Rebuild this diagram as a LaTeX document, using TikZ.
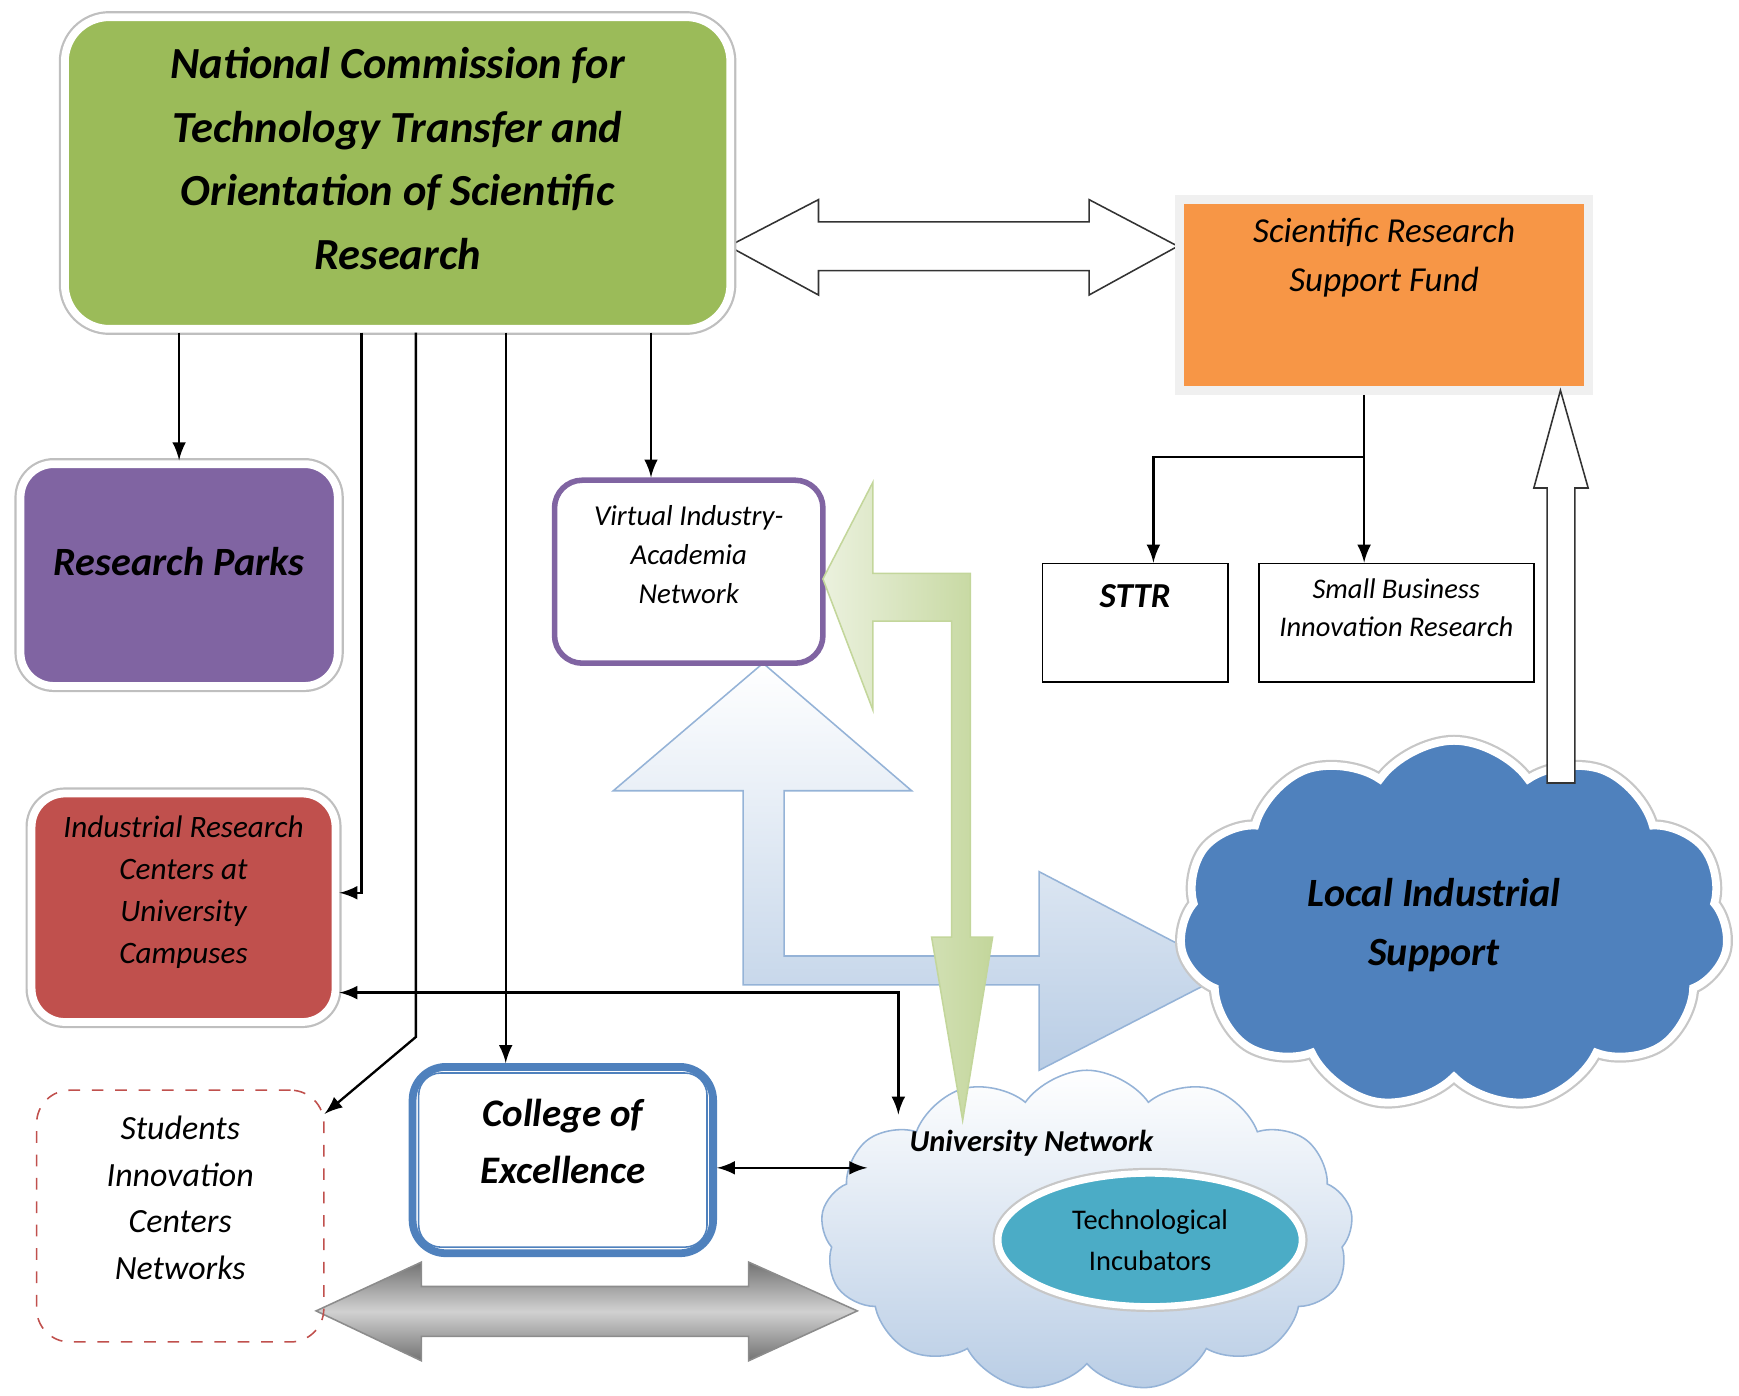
\documentclass[tikz,border=0pt]{standalone}
\usepackage{fontspec}
\setmainfont{Carlito}
\usetikzlibrary{positioning,shapes.symbols,shapes.geometric,calc}
\definecolor{commgreen}{HTML}{9BBB59}
\definecolor{parkpurple}{HTML}{8064A2}
\definecolor{centerred}{HTML}{C0504D}
\definecolor{fundorange}{HTML}{F79646}
\definecolor{localblue}{HTML}{4F81BD}
\definecolor{incteal}{HTML}{4BACC6}
\definecolor{paleblue}{HTML}{B9CDE5}
\definecolor{lineblue}{HTML}{95B3D7}
\definecolor{palegreen}{HTML}{EBF1DE}
\definecolor{leafgreen}{HTML}{C3D69B}

\begin{document}
\begin{tikzpicture}[x=0.1mm, y=-0.1mm, >=latex, semithick,
    plate/.style={draw=white, line width=0.7mm, rounded corners=3mm, align=center,
      preaction={draw=black!25, line width=1.1mm}},
    plainbox/.style={draw, thin, align=center},
    lift/.style={text depth=#1}]
    \useasboundingbox (0,0) rectangle (1568,1258);

    \draw[draw=lineblue, thin, top color=white, bottom color=paleblue]
      (688,598) -- (822,713) -- (707,713) -- (707,862) -- (937,862) -- (937,786) -- (1110,876)
      -- (937,965) -- (937,888) -- (670,888) -- (670,713) -- (553,713) -- cycle;
    \draw[draw=black!45, thin, top color=black!55, bottom color=black!55, middle color=black!18]
      (285,1182) -- (380,1138) -- (380,1160) -- (675,1160) -- (675,1138) -- (773,1182)
      -- (675,1227) -- (675,1205) -- (380,1205) -- (380,1227) -- cycle;
    \draw[draw=black!80, fill=white, thin]
      (657,222) -- (738,180) -- (738,200) -- (982,200) -- (982,180) -- (1062,222)
      -- (982,266) -- (982,244) -- (738,244) -- (738,266) -- cycle;

    \node[plate, fill=commgreen, rounded corners=4mm, minimum width=60mm, minimum height=28.1mm, lift=2.6mm,
      font=\fontsize{11.4}{16.3}\selectfont\bfseries\itshape] (comm) at (358.5,156)
      {National Commission for\\Technology Transfer and\\Orientation of Scientific\\Research};
    \node[draw=black!6, line width=0.8mm, fill=fundorange, minimum width=36.9mm, minimum height=17.2mm,
      align=center, lift=7.2mm, font=\fontsize{9}{12.5}\selectfont\itshape] (fund) at (1248,266)
      {Scientific Research\\Support Fund};
    \node[plate, fill=parkpurple, minimum width=28.6mm, minimum height=20mm, lift=2.5mm,
      font=\fontsize{10.3}{12}\selectfont\bfseries\itshape] (parks) at (161.5,518.5) {Research Parks};
    \node[plate, fill=centerred, minimum width=27.4mm, minimum height=20.6mm, lift=3.3mm,
      font=\fontsize{8}{10.8}\selectfont\itshape] (irc) at (165.5,818.5)
      {Industrial Research\\Centers at\\University\\Campuses};
    \node[draw=parkpurple, line width=0.5mm, rounded corners=2.5mm, fill=white, align=center,
      minimum width=24.2mm, minimum height=16.5mm, lift=3.1mm,
      font=\fontsize{7.4}{10}\selectfont\itshape] (via) at (621,515.5) {Virtual Industry-\\Academia\\Network};
    \node[plainbox, minimum width=16.7mm, minimum height=10.7mm, lift=4.9mm,
      font=\fontsize{9}{10}\selectfont\bfseries\itshape] (sttr) at (1023.5,561.5) {STTR};
    \node[plainbox, minimum width=24.8mm, minimum height=10.7mm, lift=2.7mm,
      font=\fontsize{7.3}{9.7}\selectfont\itshape] (sbir) at (1259,561.5) {Small Business\\Innovation Research};
    \node[draw=centerred, dashed, thin, rounded corners=3mm, align=center, minimum width=25.9mm,
      minimum height=22.7mm, lift=3.3mm, font=\fontsize{8.7}{12}\selectfont\itshape] (sicn) at (162.5,1096.5)
      {Students\\Innovation\\Centers\\Networks};
    \node[draw=localblue, line width=0.7mm, rounded corners=3mm, fill=white, align=center,
      minimum width=27.1mm, minimum height=16.8mm, lift=3.4mm,
      font=\fontsize{10}{14.5}\selectfont\bfseries\itshape] (coe) at (507.5,1046) {College of\\Excellence};
    \draw[localblue, thin, rounded corners=2mm] ([shift={(0.9mm,0.9mm)}]coe.south west)
      rectangle ([shift={(-0.9mm,-0.9mm)}]coe.north east);

    \node[cloud, cloud puffs=11, cloud puff arc=110, aspect=1.5, fill=localblue, draw=white, line width=0.7mm,
      preaction={draw=black!22, line width=1.1mm}, minimum width=49.5mm, minimum height=33.2mm,
      label={[xshift=-1.8mm, align=center, font=\fontsize{10.3}{15}\selectfont\bfseries\itshape]center:Local Industrial\\Support}]
      (lis) at (1311,834) {};
    \node[cloud, cloud puffs=13, cloud puff arc=110, aspect=1.65, top color=white, bottom color=paleblue,
      draw=lineblue, thin, minimum width=48mm, minimum height=29mm,
      label={[xshift=-5mm, yshift=7.9mm, font=\fontsize{7.8}{9}\selectfont\bfseries\itshape]center:University Network}]
      (unet) at (980,1110) {};

    \draw[draw=leafgreen, thin, left color=palegreen, right color=leafgreen]
      (742,522) -- (787,435) -- (787,517) -- (875,517) -- (875,845) -- (895,845) -- (868,1010)
      -- (840,845) -- (858,845) -- (858,560) -- (787,560) -- (787,640) -- cycle;

    \node[ellipse, fill=incteal, draw=white, line width=0.6mm, preaction={draw=black!22, line width=1mm},
      minimum width=27.4mm, minimum height=12mm, align=center, font=\fontsize{7.3}{10.5}\selectfont]
      (incub) at (1037,1118) {Technological\\Incubators};

    \draw[draw=black!80, fill=white, thin]
      (1407,352) -- (1432,440) -- (1420,440) -- (1420,706) -- (1395,706) -- (1395,440) -- (1383,440) -- cycle;

    \coordinate (unitop) at (810,1005);
    \coordinate (unileft) at (782,1053);

    \draw[->] (parks.north |- comm.south) -- (parks.north);
    \draw[->] (326,0 |- comm.south) -- (326,805) -- (irc.east |- 326,805);
    \draw[->] (375,0 |- comm.south) -- (375,935) -- ([yshift=-2.2mm]sicn.north east);
    \draw[->] (456,0 |- comm.south) -- (456,0 |- coe.north);
    \draw[->] (587,0 |- comm.south) -- (587,0 |- via.north);
    \draw[<->] (irc.east |- 0,895) -- (810,895) -- (unitop);
    \draw[<->] (coe.east |- unileft) -- (unileft);
    \draw[->] (1230,0 |- fund.south) -- (1230,0 |- sbir.north);
    \draw[->] (1230,412) -- (1040,412) -- (1040,0 |- sttr.north);
\end{tikzpicture}
\end{document}
